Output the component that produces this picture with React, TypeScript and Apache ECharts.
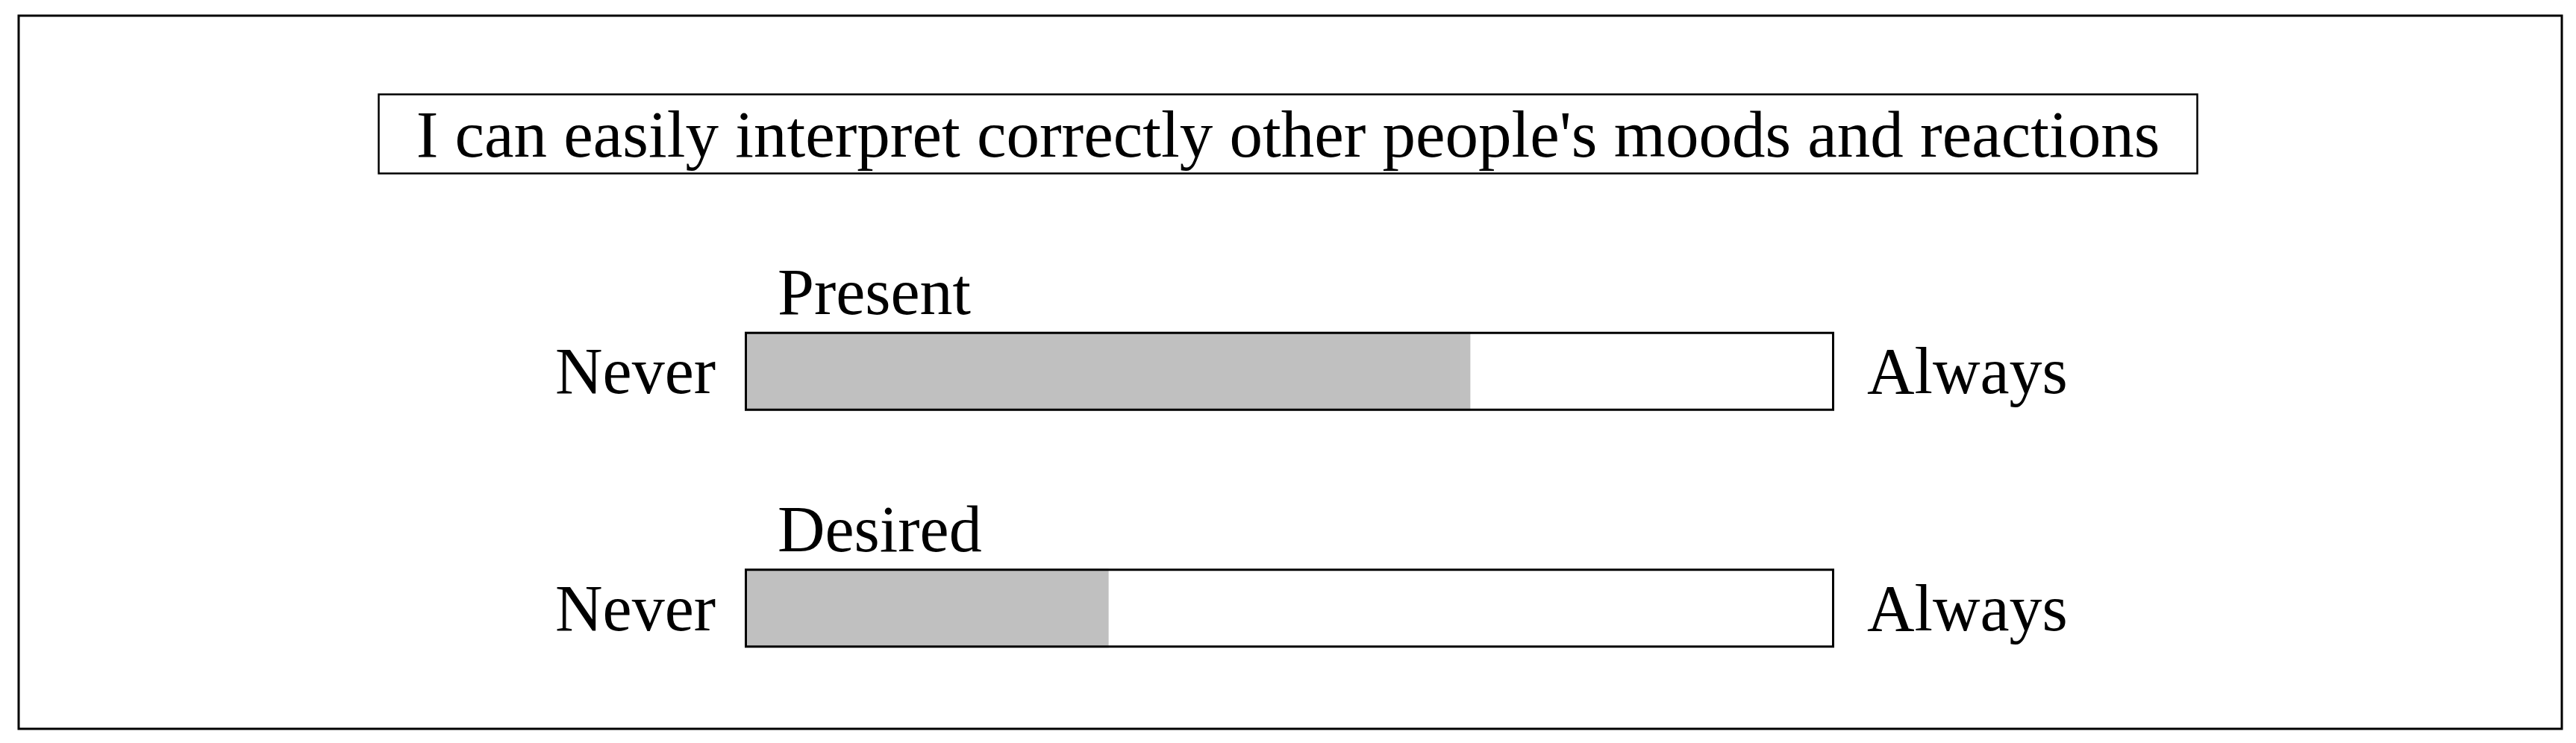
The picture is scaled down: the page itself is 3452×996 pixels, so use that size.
import React, { useEffect, useRef } from "react";
import * as echarts from "echarts";

const titleText = "I can easily interpret correctly other people's moods and reactions";
const categories = ["Present", "Desired"];
const values = [66.6, 33.4];
const scaleMax = [100, 100];
const leftLabel = "Never";
const rightLabel = "Always";

const FONT = "'Liberation Serif', 'Times New Roman', serif";

export default function App() {
  const ref = useRef<HTMLDivElement>(null);
  useEffect(() => {
    if (!ref.current) return;
    const chart = echarts.init(ref.current, undefined, { renderer: "svg" });
    chart.setOption({
      animation: false,
      backgroundColor: "#ffffff",
      title: {
        text: titleText,
        left: "center",
        top: 126,
        padding: [9, 50],
        borderColor: "#000",
        borderWidth: 2.5,
        textStyle: { fontFamily: FONT, fontSize: 89, fontWeight: "normal", color: "#000" },
      },
      graphic: [
        {
          type: "rect",
          shape: { x: 25, y: 21, width: 3408, height: 956 },
          style: { fill: "none", stroke: "#000", lineWidth: 3 },
          silent: true,
        },
      ],
      grid: { left: 998, right: 994, top: 339, height: 635, containLabel: false },
      xAxis: { type: "value", min: 0, max: 100, show: false },
      yAxis: [
        {
          type: "category",
          data: categories,
          inverse: true,
          position: "left",
          axisLine: { show: false },
          axisTick: { show: false },
          axisLabel: {
            formatter: () => leftLabel,
            margin: 39,
            fontFamily: FONT,
            fontSize: 88,
            color: "#000",
          },
        },
        {
          type: "category",
          data: categories,
          inverse: true,
          position: "right",
          axisLine: { show: false },
          axisTick: { show: false },
          axisLabel: {
            formatter: () => rightLabel,
            margin: 44,
            fontFamily: FONT,
            fontSize: 88,
            color: "#000",
          },
        },
      ],
      series: [
        {
          type: "bar",
          data: values,
          barWidth: 106,
          barGap: "-100%",
          itemStyle: { color: "#c0c0c0" },
          silent: true,
        },
        {
          type: "bar",
          data: scaleMax,
          barWidth: 106,
          barGap: "-100%",
          z: 3,
          itemStyle: { color: "rgba(0,0,0,0)", borderColor: "#000", borderWidth: 3 },
          label: {
            show: true,
            formatter: "{b}",
            position: [44, -53],
            align: "left",
            verticalAlign: "middle",
            fontFamily: FONT,
            fontSize: 88,
            color: "#000",
          },
          silent: true,
        },
      ],
    });
    return () => chart.dispose();
  }, []);
  return (
    <div
      ref={ref}
      style={{ position: "absolute", left: 0, top: 0, width: 3452, height: 996 }}
    />
  );
}
